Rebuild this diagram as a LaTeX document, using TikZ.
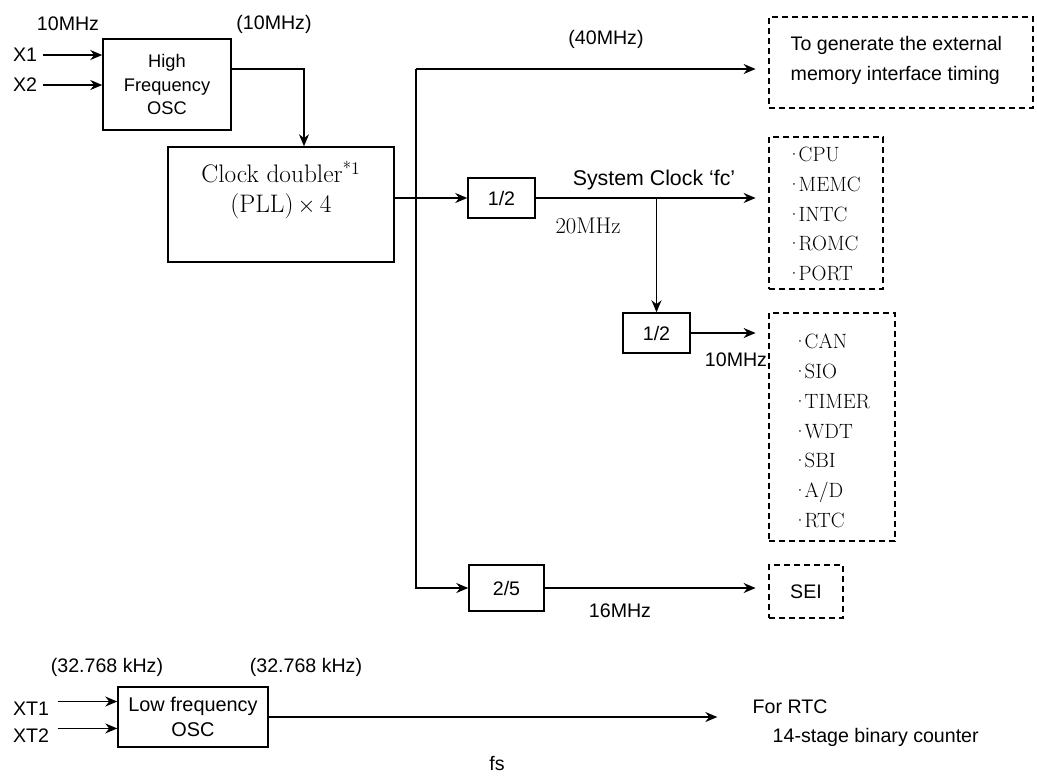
\documentclass[tikz,border=0pt]{standalone}
\usepackage{fontspec}
\newfontfamily\arialfont{Liberation Sans}
\usetikzlibrary{arrows.meta,positioning}
\newcommand\itm{·\kern-2.2pt}

\begin{document}
\begin{tikzpicture}[x=0.75pt,y=-0.75pt,line width=1.1pt,>={Stealth[length=9pt,width=7.5pt]}]
\tikzstyle{every node}+=[inner sep=0pt]
\tikzstyle{blk}=[draw,align=center,font=\arialfont\fontsize{14.7}{17}\selectfont]
\tikzstyle{dblk}=[draw,dash pattern=on 4.5pt off 3pt]
\tikzstyle{lbl}=[font=\arialfont\fontsize{14.7}{17}\selectfont]
\tikzstyle{unit}=[anchor=west,align=left,font=\fontsize{15.5}{22.3}\selectfont]
\tikzstyle{tip}=[->,shorten >=9.5pt]
\useasboundingbox (0,0) rectangle (1037,775);

% high frequency oscillator
\node[blk,minimum width=96pt,minimum height=68.25pt,font=\arialfont\fontsize{13.7}{17.6}\selectfont] (hosc) at (167,84.5) {High\\Frequency\\OSC};
\node[lbl] (x1) at (25,55) {X1};
\node[lbl] (x2) at (25,85) {X2};
\draw[->] ([xshift=4pt]x1.east) -- (x1 -| hosc.west);
\draw[->] ([xshift=4pt]x2.east) -- (x2 -| hosc.west);
\node[lbl] (f10in) at (68,24) {10MHz};
\node[lbl] (f10out) at (274,24) {(10MHz)};

% clock doubler
\node[draw,minimum width=169.5pt,minimum height=86.25pt] (pll) at (281,204.5) {};
\node[font=\fontsize{19}{22.5}\selectfont,align=center] (pllname) at (281,190) {Clock doubler\textsuperscript{*1}\\(PLL)\,$\times$\,4};
\draw[->] ([yshift=11.6pt]hosc.east) -| ([xshift=17.25pt]pll.north);

% destinations
\node[dblk,minimum width=198pt,minimum height=68.25pt] (ext) at (901,62.5) {};
\node[lbl,anchor=west,align=left,font=\arialfont\fontsize{14.7}{22.5}\selectfont] (exttxt) at (790,60) {To generate the external\\memory interface timing};
\node[dblk,minimum width=85.5pt,minimum height=114pt] (cpu) at (826,213) {};
\node[unit] (cpulist) at (786,214) {\itm CPU\\\itm MEMC\\\itm INTC\\\itm ROMC\\\itm PORT};
\node[dblk,minimum width=94.5pt,minimum height=171pt] (can) at (832,427) {};
\node[unit] (canlist) at (792,431) {\itm CAN\\\itm SIO\\\itm TIMER\\\itm WDT\\\itm SBI\\\itm A/D\\\itm RTC};
\node[dblk,lbl,minimum width=55.5pt,minimum height=39.75pt] (sei) at (806,591.5) {SEI};

% dividers
\node[blk,minimum width=50.25pt,minimum height=30pt] (half1) at (501.5,198) {1/2};
\node[blk,minimum width=50.25pt,minimum height=30pt] (half2) at (656.5,333) {1/2};
\node[blk,minimum width=56.25pt,minimum height=34.5pt] (div25) at (506.5,588) {2/5};

% 40MHz bus
\coordinate (bus) at (416,69);
\node[lbl] (f40) at (606,39) {(40MHz)};
\draw[tip] (bus) -- (bus -| ext.west);
\draw[->] (bus) |- (div25.west);
\draw[->] (pll.east |- half1) -- (half1.west);

% system clock
\node[lbl,font=\arialfont\fontsize{16}{18}\selectfont] (fc) at (654,180) {System Clock ‘fc’};
\node[font=\fontsize{17}{20}\selectfont] (f20) at (588,226) {20MHz};
\draw[tip] (half1.east) -- (half1.east -| cpu.west);
\draw[->] (half2.north |- half1.east) -- (half2.north);
\draw[tip] (half2.east) -- (half2.east -| can.west);
\node[lbl] (f10) at (736,360) {10MHz};
\draw[tip] (div25.east) -- (div25.east -| sei.west);
\node[lbl] (f16) at (620,611) {16MHz};

% low frequency oscillator
\node[blk,minimum width=112.5pt,minimum height=45pt,font=\arialfont\fontsize{14.9}{18.75}\selectfont] (losc) at (193,717) {Low frequency\\OSC};
\node[lbl] (xt1) at (31,709) {XT1};
\node[lbl] (xt2) at (31,736) {XT2};
\draw[->] ([xshift=6pt]xt1.north east) -- (xt1.north east -| losc.west);
\draw[->] ([xshift=6pt]xt2.north east) -- (xt2.north east -| losc.west);
\node[lbl] (f32in) at (107,667) {(32.768 kHz)};
\node[lbl] (f32out) at (306,667) {(32.768 kHz)};
\node[lbl,anchor=west] (forrtc) at (752,707) {For RTC};
\node[lbl,anchor=west] (counter) at (772,737) {14-stage binary counter};
\draw[->,shorten >=26pt] (losc.east) -- (losc.east -| forrtc.west);
\node[lbl] (fs) at (497,763) {fs};
\end{tikzpicture}
\end{document}
